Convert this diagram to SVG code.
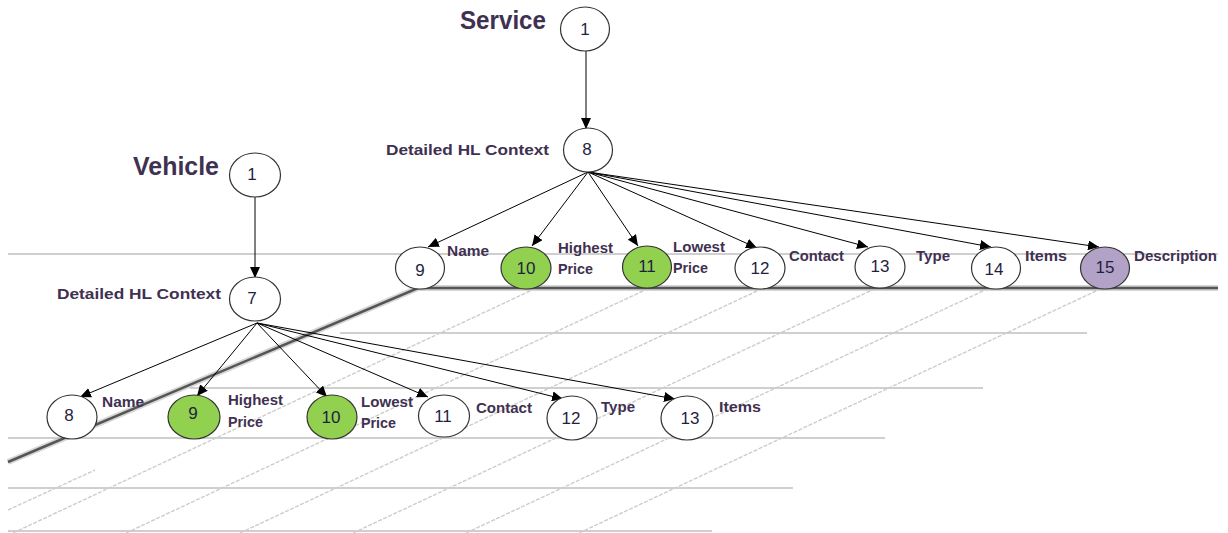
<svg xmlns="http://www.w3.org/2000/svg" width="1228" height="533" viewBox="0 0 1228 533">
<style>
.bgl{stroke:#cfcfcf;stroke-width:2;fill:none}
.sq{stroke:#cdcdcd;stroke-width:1.4;fill:none;stroke-dasharray:4 1.5}
.nd{stroke:#333;stroke-width:1.2}
.w{fill:#fff}
.g{fill:#92d050}
.p{fill:#b3a2c7}
.num{font-family:"Liberation Sans",Arial,sans-serif;font-size:17px;fill:#1f1f3f;text-anchor:middle}
.lbl{font-family:"Liberation Sans",Arial,sans-serif;font-size:15.5px;font-weight:bold;fill:#3f3151}
.ttl{font-family:"Liberation Sans",Arial,sans-serif;font-size:25px;font-weight:bold;fill:#3f3151}
.cn{stroke:#000;stroke-width:1;fill:none;marker-end:url(#ah)}
</style>
<defs>
<marker id="ah" markerWidth="12" markerHeight="10" refX="11" refY="5" orient="auto" markerUnits="userSpaceOnUse">
<path d="M0,0 L11,5 L0,10 Z" fill="#000"/>
</marker>
</defs>
<rect width="1228" height="533" fill="#fff"/>
<g id="background">
<line class="bgl" x1="8" y1="254" x2="1218" y2="254"/>
<line class="bgl" x1="340" y1="333" x2="1087" y2="333"/>
<line class="bgl" x1="190" y1="388" x2="983" y2="388"/>
<line class="bgl" x1="8" y1="438" x2="885" y2="438"/>
<line class="bgl" x1="8" y1="488" x2="793" y2="488"/>
<line class="bgl" x1="8" y1="531" x2="712" y2="531"/>
<line class="sq" x1="530" y1="291" x2="13" y2="533"/>
<line class="sq" x1="643" y1="291" x2="126" y2="533"/>
<line class="sq" x1="757" y1="291" x2="240" y2="533"/>
<line class="sq" x1="870" y1="291" x2="353" y2="533"/>
<line class="sq" x1="983" y1="291" x2="466" y2="533"/>
<line class="sq" x1="1096" y1="291" x2="579" y2="533"/>
<line class="sq" x1="8" y1="510" x2="95" y2="470"/>
<polyline points="8,462 418,288 1218,288" fill="none" stroke="#bbb" stroke-width="6" stroke-opacity="0.6"/>
<polyline points="8,462 418,288 1218,288" fill="none" stroke="#555" stroke-width="2.5"/>
</g>
<text class="ttl" x="460" y="29" textLength="86" lengthAdjust="spacingAndGlyphs">Service</text>
<text class="ttl" x="133" y="175" textLength="86" lengthAdjust="spacingAndGlyphs">Vehicle</text>
<g id="connectors">
<line class="cn" x1="586" y1="51" x2="586" y2="129"/>
<line class="cn" x1="588" y1="172" x2="428" y2="247"/>
<line class="cn" x1="588" y1="172" x2="532" y2="246"/>
<line class="cn" x1="588" y1="172" x2="638" y2="246"/>
<line class="cn" x1="588" y1="172" x2="757" y2="248"/>
<line class="cn" x1="588" y1="172" x2="868" y2="247"/>
<line class="cn" x1="588" y1="172" x2="991" y2="247"/>
<line class="cn" x1="588" y1="172" x2="1099" y2="247"/>
<line class="cn" x1="255" y1="197" x2="255" y2="278"/>
<line class="cn" x1="257" y1="323" x2="80" y2="397"/>
<line class="cn" x1="257" y1="323" x2="197" y2="396"/>
<line class="cn" x1="257" y1="323" x2="327" y2="397"/>
<line class="cn" x1="257" y1="323" x2="428" y2="397"/>
<line class="cn" x1="257" y1="323" x2="563" y2="399"/>
<line class="cn" x1="257" y1="323" x2="675" y2="399"/>
</g>
<g id="s1"><ellipse class="nd w" cx="585" cy="29" rx="24.5" ry="22"/><text class="num" x="585" y="35">1</text></g>
<g id="s8"><ellipse class="nd w" cx="588" cy="150" rx="24.5" ry="22"/><text class="num" x="587" y="155">8</text>
<text class="lbl" x="386" y="155" textLength="163" lengthAdjust="spacingAndGlyphs">Detailed HL Context</text></g>
<g id="s9"><ellipse class="nd w" cx="420" cy="268" rx="24.5" ry="21"/><text class="num" x="420" y="276">9</text>
<text class="lbl" x="447" y="256" textLength="42" lengthAdjust="spacingAndGlyphs">Name</text></g>
<g id="s10"><ellipse class="nd g" cx="526" cy="268" rx="25" ry="21"/><text class="num" x="526" y="274">10</text>
<text class="lbl" x="558" y="253" textLength="55" lengthAdjust="spacingAndGlyphs">Highest</text>
<text class="lbl" x="558" y="274" textLength="35" lengthAdjust="spacingAndGlyphs">Price</text></g>
<g id="s11"><ellipse class="nd g" cx="647" cy="267" rx="24.5" ry="21"/><text class="num" x="647" y="272">11</text>
<text class="lbl" x="673" y="252" textLength="52" lengthAdjust="spacingAndGlyphs">Lowest</text>
<text class="lbl" x="673" y="273" textLength="35" lengthAdjust="spacingAndGlyphs">Price</text></g>
<g id="s12"><ellipse class="nd w" cx="760" cy="268" rx="25" ry="21"/><text class="num" x="760" y="274">12</text>
<text class="lbl" x="789" y="261" textLength="55" lengthAdjust="spacingAndGlyphs">Contact</text></g>
<g id="s13"><ellipse class="nd w" cx="880" cy="267" rx="25" ry="21"/><text class="num" x="880" y="272">13</text>
<text class="lbl" x="916" y="261" textLength="34" lengthAdjust="spacingAndGlyphs">Type</text></g>
<g id="s14"><ellipse class="nd w" cx="996" cy="268" rx="24.5" ry="21"/><text class="num" x="994" y="275">14</text>
<text class="lbl" x="1025" y="261" textLength="42" lengthAdjust="spacingAndGlyphs">Items</text></g>
<g id="s15"><ellipse class="nd p" cx="1105" cy="268" rx="24.5" ry="21"/><text class="num" x="1105" y="273">15</text>
<text class="lbl" x="1134" y="261" textLength="83" lengthAdjust="spacingAndGlyphs">Description</text></g>
<g id="v1"><ellipse class="nd w" cx="255" cy="175" rx="25.5" ry="22"/><text class="num" x="252" y="180">1</text></g>
<g id="v7"><ellipse class="nd w" cx="255" cy="299" rx="25.5" ry="22"/><text class="num" x="252" y="304">7</text>
<text class="lbl" x="57" y="299" textLength="164" lengthAdjust="spacingAndGlyphs">Detailed HL Context</text></g>
<g id="v8"><ellipse class="nd w" cx="72" cy="417" rx="25" ry="22"/><text class="num" x="69" y="421">8</text>
<text class="lbl" x="102" y="407" textLength="42" lengthAdjust="spacingAndGlyphs">Name</text></g>
<g id="v9"><ellipse class="nd g" cx="194" cy="417" rx="26" ry="22"/><text class="num" x="193" y="419">9</text>
<text class="lbl" x="228" y="405" textLength="55" lengthAdjust="spacingAndGlyphs">Highest</text>
<text class="lbl" x="228" y="427" textLength="35" lengthAdjust="spacingAndGlyphs">Price</text></g>
<g id="v10"><ellipse class="nd g" cx="332" cy="417" rx="25" ry="22"/><text class="num" x="331" y="423">10</text>
<text class="lbl" x="361" y="407" textLength="52" lengthAdjust="spacingAndGlyphs">Lowest</text>
<text class="lbl" x="361" y="428" textLength="35" lengthAdjust="spacingAndGlyphs">Price</text></g>
<g id="v11"><ellipse class="nd w" cx="444" cy="416" rx="25.5" ry="21"/><text class="num" x="443" y="422">11</text>
<text class="lbl" x="476" y="413" textLength="56" lengthAdjust="spacingAndGlyphs">Contact</text></g>
<g id="v12"><ellipse class="nd w" cx="572" cy="418" rx="25" ry="22"/><text class="num" x="571" y="424">12</text>
<text class="lbl" x="601" y="412" textLength="34" lengthAdjust="spacingAndGlyphs">Type</text></g>
<g id="v13"><ellipse class="nd w" cx="687" cy="418" rx="26" ry="22"/><text class="num" x="690" y="424">13</text>
<text class="lbl" x="719" y="412" textLength="42" lengthAdjust="spacingAndGlyphs">Items</text></g>
</svg>
